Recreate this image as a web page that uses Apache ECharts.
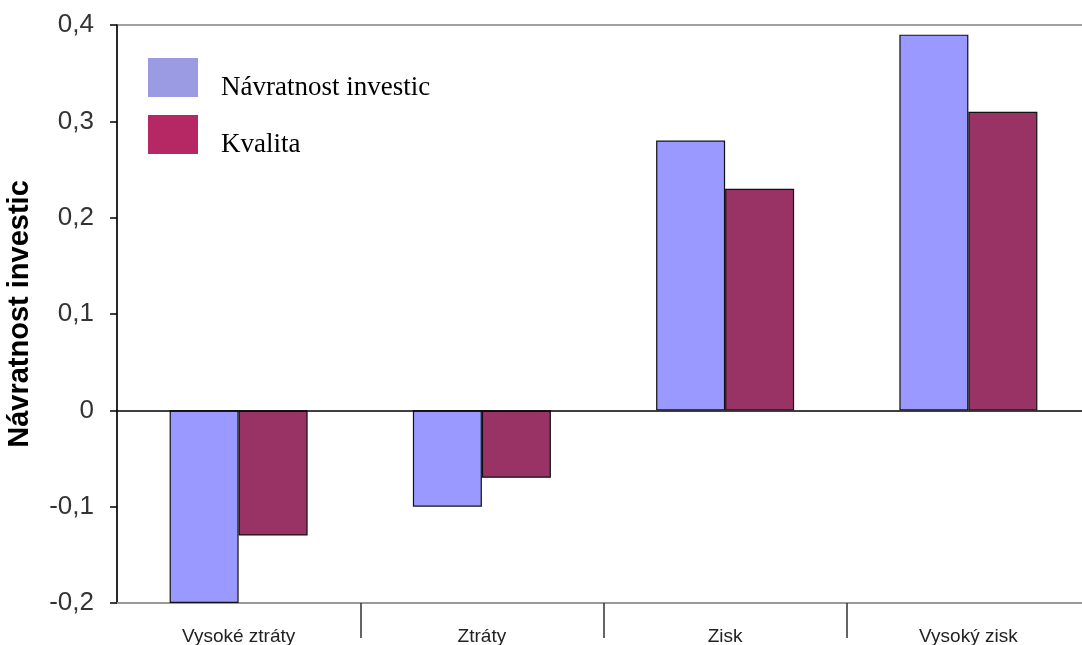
<!DOCTYPE html>
<html>
<head>
<meta charset="utf-8">
<script src="https://cdn.jsdelivr.net/npm/echarts@6/dist/echarts.min.js"></script>
<style>
  html, body { margin: 0; padding: 0; background: #fff; }
  #chart { width: 1082px; height: 645px; }
</style>
</head>
<body>
<div id="chart"></div>
<script>
// Categories and series values
var categories = ['Vysoké ztráty', 'Ztráty', 'Zisk', 'Vysoký zisk'];
var navratnost = [-0.20, -0.10, 0.28, 0.39];
var kvalita = [-0.13, -0.07, 0.23, 0.31];
var seriesNames = ['Návratnost investic', 'Kvalita'];
var yAxisTitle = 'Návratnost investic';

var chart = echarts.init(document.getElementById('chart'), null, { renderer: 'canvas' });

function fmt(v) {
  if (Math.abs(v) < 1e-9) return '0';
  return v.toFixed(1).replace('.', ',');
}

chart.setOption({
  animation: false,
  backgroundColor: '#ffffff',
  grid: {
    left: 117, width: 973, top: 25, height: 578,
    containLabel: false,
    outerBoundsMode: 'none',
    show: true, borderColor: '#a0a0a0', borderWidth: 2, backgroundColor: 'transparent'
  },
  legend: {
    orient: 'vertical',
    left: 148, top: 58,
    padding: 0,
    itemWidth: 50, itemHeight: 39, itemGap: 14,
    icon: 'rect',
    selectedMode: false,
    formatter: '{t|{name}}',
    textStyle: {
      fontFamily: 'Liberation Serif', fontSize: 27, color: '#000',
      rich: { t: { fontFamily: 'Liberation Serif', fontSize: 27, color: '#000', padding: [20, 0, 0, 18] } }
    },
    data: [
      { name: seriesNames[0], itemStyle: { color: '#9b9be3', borderWidth: 0 } },
      { name: seriesNames[1], itemStyle: { color: '#b52863', borderWidth: 0 } }
    ]
  },
  xAxis: {
    type: 'category',
    data: categories,
    position: 'bottom',
    axisLine: { onZero: false, lineStyle: { color: '#999', width: 2 } },
    axisTick: {
      show: true, length: 35, inside: false,
      interval: function (idx) { return idx !== 0; },
      lineStyle: { color: '#333', width: 1.5 }
    },
    axisLabel: { fontFamily: 'Liberation Sans', fontSize: 19, color: '#222', margin: 24 },
    splitLine: { show: false }
  },
  yAxis: {
    type: 'value',
    min: -0.2, max: 0.4, interval: 0.1,
    name: yAxisTitle,
    nameLocation: 'middle',
    nameGap: 83,
    nameTextStyle: { fontFamily: 'Liberation Sans', fontWeight: 'bold', fontSize: 29, color: '#000' },
    axisLine: { show: true, lineStyle: { color: '#000', width: 1.5 } },
    axisTick: { show: true, length: 7, lineStyle: { color: '#000', width: 1.5 } },
    axisLabel: { fontFamily: 'Liberation Sans', fontSize: 26, color: '#333', margin: 23, formatter: fmt },
    splitLine: { show: false }
  },
  series: [
    {
      name: seriesNames[0],
      type: 'bar',
      data: navratnost,
      barWidth: 69,
      barGap: '0%',
      itemStyle: { color: '#9999ff', borderColor: '#111', borderWidth: 1.2 },
      markLine: {
        silent: true, symbol: 'none', label: { show: false },
        lineStyle: { color: '#000', width: 1.5, type: 'solid' },
        data: [{ yAxis: 0 }]
      }
    },
    {
      name: seriesNames[1],
      type: 'bar',
      data: kvalita,
      barWidth: 69,
      barGap: '0%',
      itemStyle: { color: '#993366', borderColor: '#111', borderWidth: 1.2 }
    }
  ]
});
</script>
</body>
</html>
